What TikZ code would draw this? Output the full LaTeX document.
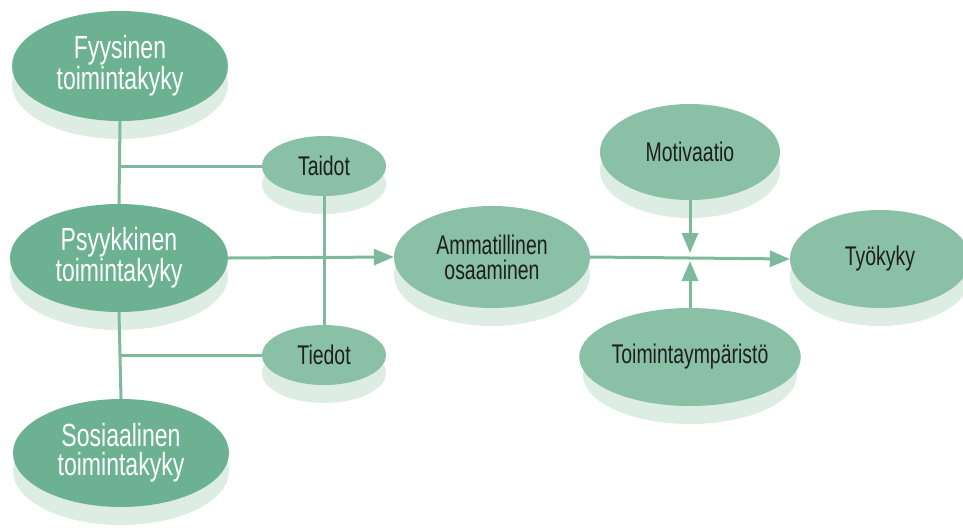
\documentclass[tikz,border=0pt]{standalone}
\usepackage{fontspec}
\setmainfont{Liberation Sans}[FakeStretch=0.72]
\usetikzlibrary{shapes.geometric,arrows.meta}
\definecolor{darkfill}{RGB}{108,178,146}
\definecolor{lightfill}{RGB}{138,192,165}
\definecolor{shadowc}{RGB}{221,237,228}
\definecolor{linec}{RGB}{125,186,155}
\definecolor{textdark}{RGB}{30,30,30}
\tikzset{
  darkbub/.style={ellipse, fill=darkfill, inner sep=0pt, align=center, text=white, font=\fontsize{32}{29}\selectfont},
  lightbub/.style={ellipse, fill=lightfill, inner sep=0pt, align=center, text=textdark, font=\fontsize{27}{25}\selectfont},
  conn/.style={draw=linec, line width=3pt},
  arr/.style={conn, -{Triangle[length=20pt,width=16pt]}}
}
\newcommand{\bubble}[7]{%
  \fill[shadowc] (#2,#3+18) ellipse [x radius=#4pt, y radius=#5pt];
  \node[#6, minimum width={2*#4pt}, minimum height={2*#5pt}] (#1) at (#2,#3) {#7};}
\begin{document}
\begin{tikzpicture}[x=1pt,y=-1pt]
\useasboundingbox (0,0) rectangle (963,531);
\bubble{fy}{120}{66}{108}{55}{darkbub}{Fyysinen\\toimintakyky}
\bubble{ps}{119}{258}{109}{54}{darkbub}{Psyykkinen\\toimintakyky}
\bubble{so}{121}{453}{108}{54}{darkbub}{Sosiaalinen\\toimintakyky}
\bubble{ta}{324}{166}{62}{30}{lightbub}{Taidot}
\bubble{ti}{324}{355}{62}{30}{lightbub}{Tiedot}
\bubble{am}{492}{257}{98}{51}{lightbub}{Ammatillinen\\osaaminen}
\bubble{mo}{690}{152}{90}{48}{lightbub}{Motivaatio}
\bubble{to}{690}{357}{107}{49}{lightbub}{Toimintaympäristö}
\bubble{ty}{880}{259}{90}{49}{lightbub}{Työkyky}
\coordinate (j1) at (fy.south |- ta.west);
\coordinate (j2) at (fy.south |- ti.west);
\coordinate (mt) at (690,253);
\coordinate (tt) at (690,261);
\draw[conn] (fy.south) -- (ps.north);
\draw[conn] (ps.south) -- (so.north);
\draw[conn] (j1) -- (ta.west);
\draw[conn] (j2) -- (ti.west);
\draw[conn] (ta.south) -- (ti.north);
\draw[arr] (ps.east) -- (am.west);
\draw[arr] (am.east) -- (ty.west);
\draw[arr] (mo.south) -- (mt);
\draw[arr] (to.north) -- (tt);
\end{tikzpicture}
\end{document}
